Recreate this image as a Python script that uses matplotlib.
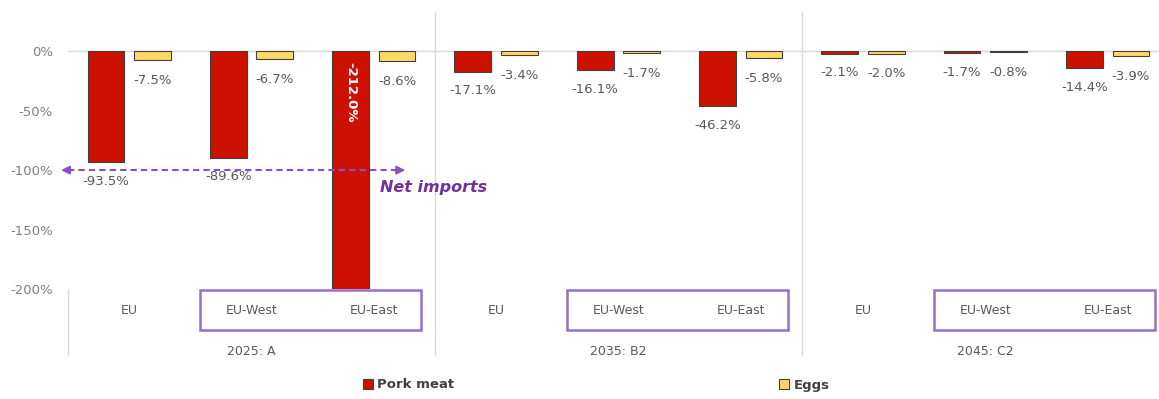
import matplotlib.pyplot as plt
from matplotlib.patches import Rectangle
import numpy as np

# data (% change)
regions = ['EU', 'EU-West', 'EU-East']
scenarios = ['2025: A', '2035: B2', '2045: C2']
pork = [-93.5, -89.6, -212.0, -17.1, -16.1, -46.2, -2.1, -1.7, -14.4]
eggs = [-7.5, -6.7, -8.6, -3.4, -1.7, -5.8, -2.0, -0.8, -3.9]

red = '#CC1100'
yellow = '#FFD966'
purple = '#7030A0'
grey_txt = '#595959'
line_grey = '#D9D9D9'

fig = plt.figure(figsize=(11.59, 3.99), dpi=100)
ax = fig.add_axes([68 / 1159, 110 / 399, 1091 / 1159, 277 / 399])

x = np.arange(len(pork))
w = 0.30
off = 0.19
ax.bar(x - off, pork, w, color=red, edgecolor='#404040', lw=0.8, label='Pork meat', zorder=3)
ax.bar(x + off, eggs, w, color=yellow, edgecolor='#404040', lw=0.8, label='Eggs', zorder=3)

ax.set_xlim(-0.5, 8.42)
ax.set_ylim(-200, 33)
ax.set_yticks([0, -50, -100, -150, -200])
ax.set_yticklabels(['0%', '-50%', '-100%', '-150%', '-200%'])
ax.tick_params(axis='y', length=0, pad=11, labelsize=9.5, labelcolor='#7F7F7F')
ax.set_xticks([])
for s in ax.spines.values():
    s.set_visible(False)
ax.axhline(0, color=line_grey, lw=1, zorder=1)

# data labels
for i, v in enumerate(pork):
    if v < -200:
        ax.text(x[i] - off, -9, f'{v:.1f}%', rotation=-90, ha='center', va='top',
                color='white', fontsize=9.5, fontweight='bold', zorder=4)
    else:
        ax.annotate(f'{v:.1f}%', (x[i] - off, v), xytext=(0, -9), textcoords='offset points',
                    ha='center', va='top', fontsize=9.5, color=grey_txt)
for i, v in enumerate(eggs):
    ax.annotate(f'{v:.1f}%', (x[i] + off, v), xytext=(0, -10), textcoords='offset points',
                ha='center', va='top', fontsize=9.5, color=grey_txt)

# category axis below the plot
tr = ax.get_xaxis_transform()
for i in range(len(pork)):
    ax.text(x[i], -0.076, regions[i % 3], transform=tr, ha='center', va='center',
            fontsize=9, color=grey_txt)
for g, name in enumerate(scenarios):
    start = 3 * g - 0.5
    ax.text(start + 1.5, -0.227, name, transform=tr, ha='center', va='center',
            fontsize=9, color=grey_txt)
    top = 0 if g == 0 else 1.0
    ax.plot([start, start], [top, -0.238], transform=tr, color=line_grey, lw=1, clip_on=False)
    ax.add_patch(Rectangle((start + 1.08, -0.148), 1.81, 0.144, transform=tr, fill=False,
                           edgecolor='#9470C8', lw=1.8, clip_on=False, zorder=5))

# net imports arrow
ax.plot([-0.5, 2.2], [-100, -100], ls=(0, (3, 2)), color='#8A4FC8', lw=1.5, clip_on=False, zorder=6)
ax.annotate('', xy=(-0.58, -100), xytext=(-0.45, -100),
            arrowprops=dict(arrowstyle='-|>', color='#8A4FC8', lw=1.5, mutation_scale=12),
            annotation_clip=False)
ax.annotate('', xy=(2.28, -100), xytext=(2.15, -100),
            arrowprops=dict(arrowstyle='-|>', color='#8A4FC8', lw=1.5, mutation_scale=12),
            annotation_clip=False)
ax.text(2.05, -115, 'Net imports', color=purple, fontsize=11.5, fontweight='bold',
        fontstyle='italic', ha='left', va='center', zorder=6)

fig.legend(loc='center', bbox_to_anchor=(596 / 1159, 1 - 385 / 399), ncol=2, frameon=False,
           handlelength=0.8, handleheight=0.8, handletextpad=0.3, columnspacing=24.6,
           prop={'size': 9.5, 'weight': 'bold'}, labelcolor='#404040')

fig.savefig('out.png', dpi=100)
